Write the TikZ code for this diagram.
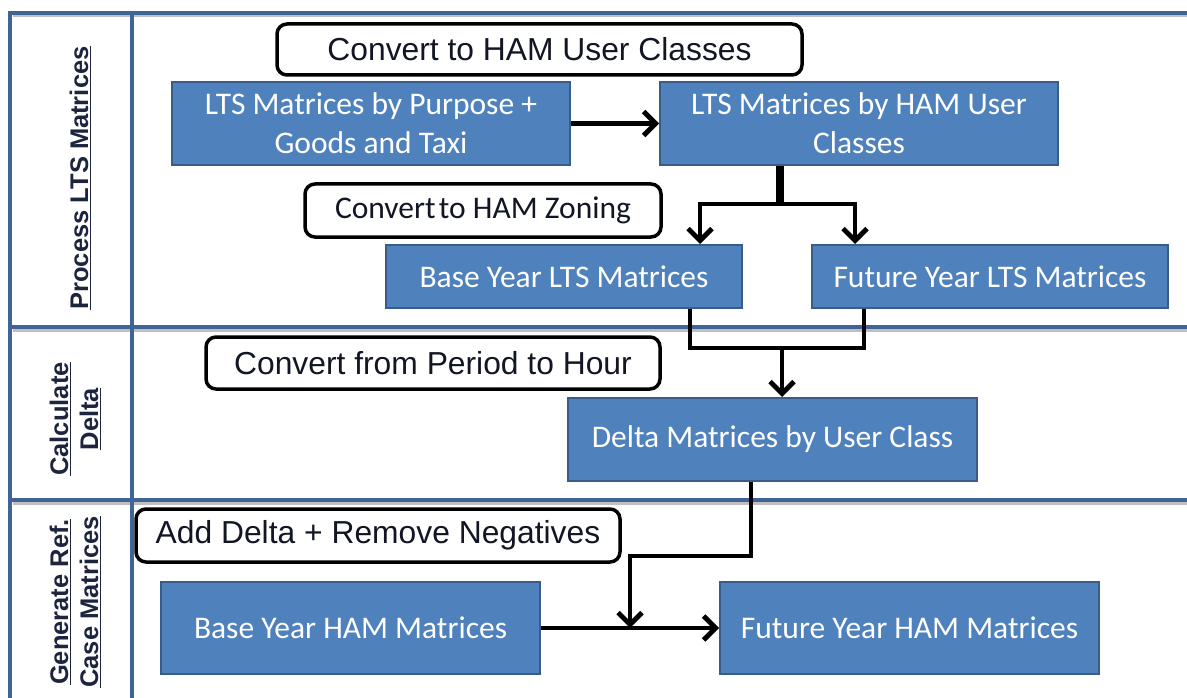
\documentclass[tikz,border=0pt]{standalone}
\usepackage{fontspec}
\newfontfamily\carlito{Carlito}
\newfontfamily\arialf{Liberation Sans}
\usetikzlibrary{arrows.meta}
\definecolor{boxblue}{RGB}{79,129,189}
\definecolor{boxedge}{RGB}{56,93,138}
\definecolor{framec}{RGB}{62,101,150}
\definecolor{headc}{RGB}{28,36,62}
\definecolor{callc}{RGB}{18,22,36}
\tikzset{
  box/.style={fill=boxblue, draw=boxedge, line width=2pt, inner sep=0pt, align=center,
    text=white, font=\carlito\fontsize{31.5}{39}\selectfont},
  callout/.style={fill=white, draw=black, line width=3.5pt, rounded corners=10pt, inner sep=0pt,
    text=callc, font=\arialf\fontsize{31.8}{37}\selectfont},
  head/.style={rotate=90, align=center, text=headc, inner sep=0pt,
    font=\arialf\bfseries\fontsize{25.5}{30}\selectfont},
  frameline/.style={draw=framec, line width=3.5pt},
  shadowline/.style={draw=black!25, line width=3pt},
  conn/.style={draw=black, line width=4.8pt},
  arr/.style={-{Straight Barb[length=12pt,width=24pt]}},
}
\begin{document}
\begin{tikzpicture}[x=1pt,y=-1pt]
\useasboundingbox (0,0) rectangle (1187,698);
% frame shadows
\draw[shadowline] (13,16) -- (1192,16);
\draw[shadowline] (13,330) -- (1192,330);
\draw[shadowline] (13,503) -- (1192,503);
% frame
\draw[frameline] (1192,13) -- (10,13) -- (10,703);
\draw[frameline] (132,13) -- (132,703);
\draw[frameline] (10,327) -- (1192,327);
\draw[frameline] (10,500) -- (1192,500);
% lane headers
\node[head] (h1) at (80,178) {\underline{Process LTS Matrices}};
\node[head] (h2) at (75,419) {\underline{Calculate}\\\underline{Delta}};
\node[head] (h3) at (75,602) {\underline{Generate Ref.}\\\underline{Case Matrices}};
% callouts
\node[callout, minimum width=525pt, minimum height=51pt] (c1) at (539.5,49.5) {Convert to HAM User Classes};
\node[callout, minimum width=356pt, minimum height=53pt, font=\carlito\fontsize{31.5}{37}\selectfont] (c2) at (483,210.5) {Convert\hspace{-0.12em} to HAM Zoning};
\node[callout, minimum width=454pt, minimum height=52pt] (c3) at (433,363) {Convert from Period to Hour};
\node[callout, minimum width=484pt, minimum height=53pt] (c4) at (378,535.5) {Add Delta + Remove Negatives};
% boxes
\node[box, minimum width=398pt, minimum height=83pt] (A) at (371,123.5) {LTS Matrices by Purpose +\\Goods and Taxi};
\node[box, minimum width=398pt, minimum height=83pt] (B) at (859,123.5) {LTS Matrices by HAM User\\Classes};
\node[box, minimum width=356pt, minimum height=63pt] (C) at (564,276.5) {Base Year LTS Matrices};
\node[box, minimum width=356pt, minimum height=63pt] (D) at (990,276.5) {Future Year LTS Matrices};
\node[box, minimum width=409pt, minimum height=83pt] (E) at (772.5,439.5) {Delta Matrices by User Class};
\node[box, minimum width=379pt, minimum height=92pt] (F) at (350.5,628) {Base Year HAM Matrices};
\node[box, minimum width=379pt, minimum height=92pt] (G) at (909.5,628) {Future Year HAM Matrices};
% connectors
\draw[conn, arr] (A.east) -- (B.west);
\coordinate (bs) at (780,204);
\draw[conn, line width=7.5pt] (B.south -| bs) -- (bs);
\draw[conn, arr] (bs) -| ([xshift=136pt]C.north);
\draw[conn, arr] (bs) -| ([xshift=-135pt]D.north);
\draw[conn] ([xshift=126pt]C.south) -- ++(0,39) -| ([xshift=-126pt]D.south);
\coordinate (j2) at (782,347);
\draw[conn, arr] (j2) -- (E.north -| j2);
\coordinate (k) at (630,556);
\draw[conn, arr] ([xshift=-21.5pt]E.south) |- (k) -- (k |- F.east);
\draw[conn, arr] (F.east) -- (G.west);
\end{tikzpicture}
\end{document}
